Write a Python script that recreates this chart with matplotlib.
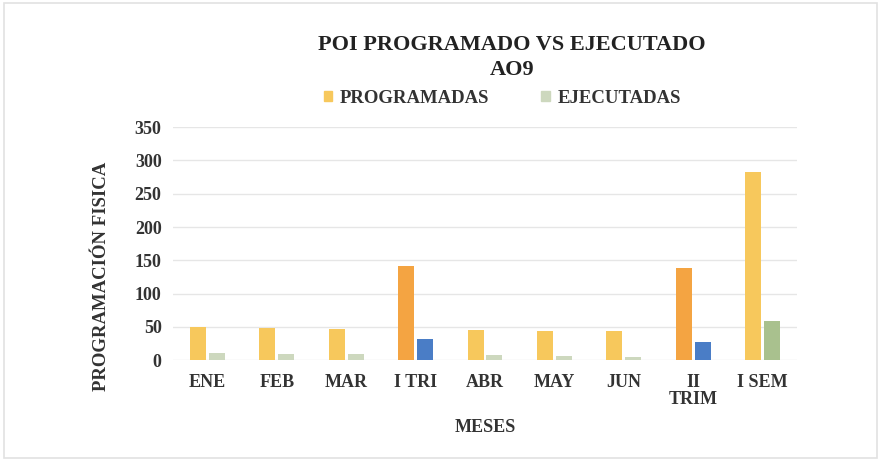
import numpy as np
import matplotlib.pyplot as plt
from matplotlib.patches import Patch, Rectangle

meses = ["ENE", "FEB", "MAR", "I TRI", "ABR", "MAY", "JUN", "II\nTRIM", "I SEM"]
programadas = [49, 48, 47, 142, 45, 44, 44, 138, 282]
ejecutadas = [10, 9, 9, 31, 8, 6, 5, 27, 59]

col_prog = ["#F7C85C", "#F7C85C", "#F7C85C", "#F4A442", "#F7C85C", "#F7C85C", "#F7C85C", "#F4A442", "#F7C85C"]
col_ejec = ["#CDD8BE", "#CDD8BE", "#CDD8BE", "#4A7DC6", "#CDD8BE", "#CDD8BE", "#CDD8BE", "#4A7DC6", "#A9C18E"]

plt.rcParams['font.family'] = ['Liberation Serif', 'DejaVu Serif']
plt.rcParams['font.weight'] = 'bold'

fig = plt.figure(figsize=(8.81, 4.61), dpi=100)
fig.patches.append(Rectangle((0.004, 0.006), 0.992, 0.988, transform=fig.transFigure,
                             fill=False, edgecolor="#E2E2E2", linewidth=1.2))
ax = fig.add_axes([0.196, 0.219, 0.709, 0.505])

x = np.arange(len(meses))
w = 0.23
ax.bar(x - 0.135, programadas, w, color=col_prog, zorder=3)
ax.bar(x + 0.135, ejecutadas, w, color=col_ejec, zorder=3)

ax.set_xlim(-0.5, len(meses) - 0.5)
ax.set_ylim(0, 350)
ax.set_yticks(range(0, 351, 50))
ax.set_xticks(x)
ax.set_xticklabels(meses, fontsize=13, fontweight='bold', color="#333333", linespacing=1.0)
ax.tick_params(axis='y', labelsize=13, colors="#333333", length=0, pad=8)
ax.tick_params(axis='x', length=0, pad=10)
ax.grid(axis='y', color="#E6E6E6", linewidth=1, zorder=0)
for s in ax.spines.values():
    s.set_visible(False)

ax.set_ylabel("PROGRAMACIÓN FISICA", fontsize=13.5, fontweight='bold', color="#333333")
ax.yaxis.set_label_coords(-0.10, 0.36)
ax.set_xlabel("MESES", fontsize=13, fontweight='bold', color="#333333", labelpad=8)

fig.text(0.581, 0.902, "POI PROGRAMADO VS EJECUTADO", ha='center', va='center',
         fontsize=16, fontweight='bold', color="#222222")
fig.text(0.581, 0.848, "AO9", ha='center', va='center',
         fontsize=16, fontweight='bold', color="#222222")

handles = [Patch(color="#F7C85C", label="PROGRAMADAS"),
           Patch(color="#CDD8BE", label="EJECUTADAS")]
fig.legend(handles=handles, loc='center', bbox_to_anchor=(0.57, 0.787), ncol=2, frameon=False,
           prop={'size': 13.5, 'weight': 'bold'}, handlelength=0.45, handleheight=0.45,
           handletextpad=0.4, columnspacing=2.8, labelcolor="#333333")

fig.savefig("out.png", dpi=100, facecolor="white")
